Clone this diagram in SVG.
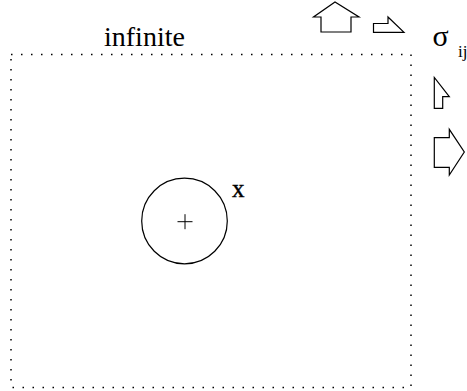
<svg xmlns="http://www.w3.org/2000/svg" width="467" height="391" viewBox="0 0 467 391">
<style>
.t{font-family:"Liberation Serif","Times New Roman",serif;fill:#000}
.s{fill:#fff;stroke:#000;stroke-width:1.2;stroke-linejoin:miter}
</style>
<rect width="467" height="391" fill="#fff"/>
<g id="domain">
<rect x="11" y="54.5" width="400" height="333" fill="none" stroke="#000" stroke-width="1.5" stroke-dasharray="1.5 8.5"/>
<text class="t" x="104" y="46" font-size="28" font-family="Liberation Serif, serif">infinite</text>
</g>
<g id="hole">
<circle cx="184.5" cy="221" r="42.8" fill="none" stroke="#000" stroke-width="1.2"/>
<path d="M177.5 221.7H192.5M185 214.2V229.2" stroke="#000" stroke-width="1"/>
<text class="t" x="232" y="196.5" font-size="25" stroke="#000" stroke-width="0.4">x</text>
</g>
<g id="arrows">
<path class="s" d="M321 32V17H313.5L335 2L359 17H351V32Z"/>
<path class="s" d="M373.5 23.5H388V17L404 32.3H373.5Z"/>
<path class="s" d="M434.3 77.5V108.3H442.7V96.7H449.3Z"/>
<path class="s" d="M434.3 137.7H449.3V129.3L464.3 152L449.3 175V167.3H434.3Z"/>
</g>
<g id="stress">
<text class="t" x="432.5" y="46" font-size="30">σ</text>
<text class="t" x="458" y="57" font-size="17">ij</text>
</g>
</svg>
